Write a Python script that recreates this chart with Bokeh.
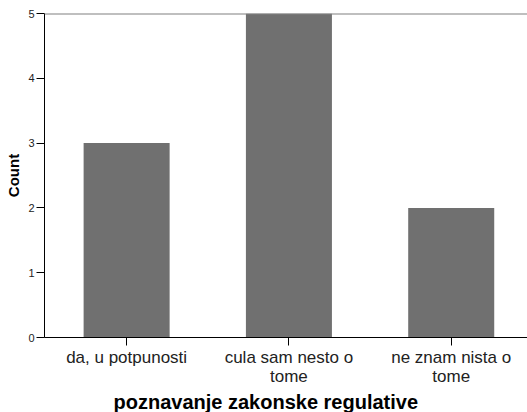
from bokeh.plotting import figure
from bokeh.models import Range1d, FixedTicker, Span, ColumnDataSource, Title
from bokeh.embed import file_html
from bokeh.resources import INLINE

categories = ["da, u potpunosti", "cula sam nesto o\ntome", "ne znam nista o\ntome"]
counts = [3, 5, 2]
y_ticks = [0, 1, 2, 3, 4, 5]
x_title = "poznavanje zakonske regulative"
y_title = "Count"

xs = list(range(len(categories)))
src = ColumnDataSource(dict(x=xs, top=counts))

p = figure(width=527, height=412, output_backend="svg", toolbar_location=None,
           x_range=Range1d(-0.506, 2.47), y_range=Range1d(0, 5),
           min_border_left=44, min_border_right=0, min_border_top=13, min_border_bottom=2)

p.vbar(x="x", top="top", width=0.53, source=src, fill_color="#707070", line_color=None)

p.xgrid.visible = False
p.ygrid.visible = False
p.outline_line_color = None
p.background_fill_color = "white"

top_line = Span(location=5, dimension="width", line_color="#808080", line_width=2)
p.add_layout(top_line)

font = "Liberation Sans"
p.yaxis.ticker = FixedTicker(ticks=y_ticks)
p.yaxis.minor_tick_line_color = None
p.yaxis.major_tick_out = 8
p.yaxis.major_tick_in = 0
p.yaxis.major_label_standoff = 2
p.yaxis.major_label_text_font = font
p.yaxis.major_label_text_font_size = "11px"
p.yaxis.major_label_text_color = "#222222"
p.yaxis.axis_label = y_title
p.yaxis.axis_label_text_font = font
p.yaxis.axis_label_text_font_style = "bold"
p.yaxis.axis_label_text_font_size = "15px"
p.yaxis.axis_label_text_color = "black"
p.yaxis.axis_label_standoff = 3
p.yaxis.axis_line_color = "black"

p.xaxis.ticker = FixedTicker(ticks=xs)
p.xaxis.major_label_overrides = {i: c for i, c in zip(xs, categories)}
p.xaxis.minor_tick_line_color = None
p.xaxis.major_tick_out = 8
p.xaxis.major_tick_in = 0
p.xaxis.major_label_standoff = 2
p.xaxis.major_label_text_font = font
p.xaxis.major_label_text_font_size = "17px"
p.xaxis.major_label_text_color = "#222222"
p.xaxis.major_label_text_line_height = 1.0
p.xaxis.axis_line_color = "black"

p.add_layout(Title(text=x_title, align="left", offset=69, text_font=font,
                   text_font_style="bold", text_font_size="20px", text_color="black",
                   standoff=0), "below")

open("out.html", "w").write(file_html(p, INLINE))
